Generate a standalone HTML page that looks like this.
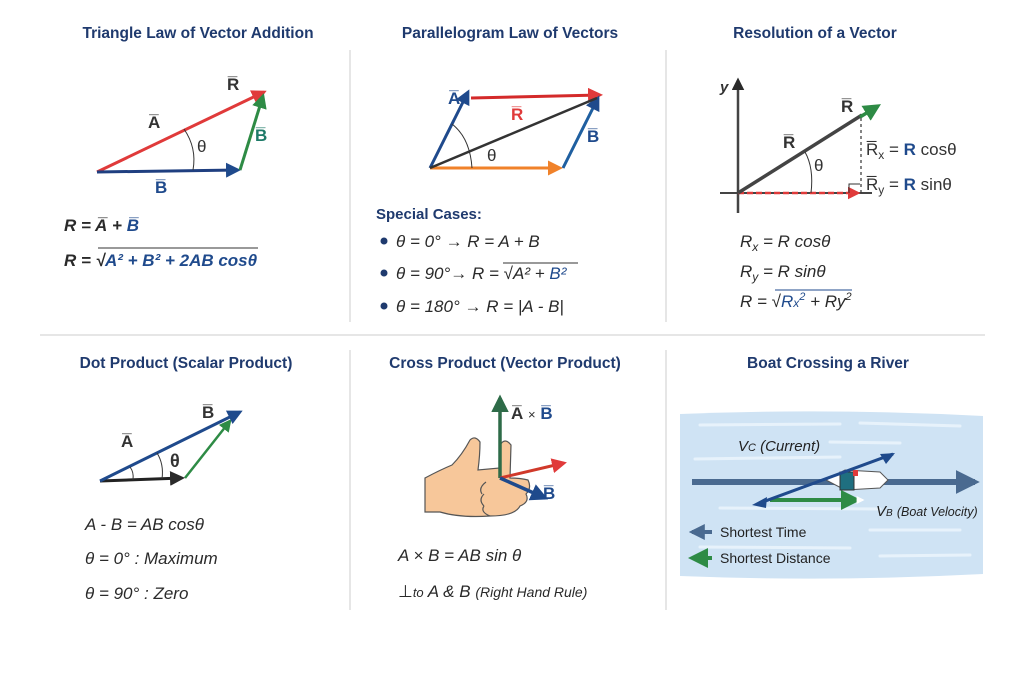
<!DOCTYPE html>
<html><head><meta charset="utf-8"><style>
html,body{margin:0;padding:0;background:#fff;}
svg{display:block;}
text{font-family:"Liberation Sans","DejaVu Sans",sans-serif;}
.t{font-weight:bold;font-size:15.5px;fill:#1f3a6e;text-anchor:middle;}
.eq{font-style:italic;font-size:17px;fill:#2a2a2a;}
.lb{font-weight:bold;font-size:17px;}
</style></head><body>
<svg width="1024" height="683" viewBox="0 0 1024 683" xmlns="http://www.w3.org/2000/svg">
<defs>
<marker id="mr" viewBox="0 0 10 10" refX="8" refY="5" markerWidth="5" markerHeight="5" orient="auto"><path d="M0,0 L10,5 L0,10 z" fill="#e03a3a"/></marker>
<marker id="mb" viewBox="0 0 10 10" refX="8" refY="5" markerWidth="5" markerHeight="5" orient="auto"><path d="M0,0 L10,5 L0,10 z" fill="#1f4a8c"/></marker>
<marker id="mg" viewBox="0 0 10 10" refX="8" refY="5" markerWidth="5" markerHeight="5" orient="auto"><path d="M0,0 L10,5 L0,10 z" fill="#2e8b45"/></marker>
<marker id="mo" viewBox="0 0 10 10" refX="8" refY="5" markerWidth="5" markerHeight="5" orient="auto"><path d="M0,0 L10,5 L0,10 z" fill="#f0822a"/></marker>
<marker id="mk" viewBox="0 0 10 10" refX="8" refY="5" markerWidth="5" markerHeight="5" orient="auto"><path d="M0,0 L10,5 L0,10 z" fill="#2a2a2a"/></marker>
<marker id="ms" viewBox="0 0 10 10" refX="8" refY="5" markerWidth="4" markerHeight="4" orient="auto"><path d="M0,0 L10,5 L0,10 z" fill="#4a6a90"/></marker>
<marker id="mdg" viewBox="0 0 10 10" refX="8" refY="5" markerWidth="5" markerHeight="5" orient="auto"><path d="M0,0 L10,5 L0,10 z" fill="#2e6b48"/></marker>
<marker id="mw" viewBox="0 0 10 10" refX="8" refY="5" markerWidth="4" markerHeight="4" orient="auto"><path d="M0,0 L10,5 L0,10 z" fill="#fff"/></marker>
</defs>

<!-- dividers -->
<g stroke="#d6d6d6" stroke-width="1.2">
<line x1="350" y1="50" x2="350" y2="322"/><line x1="666" y1="50" x2="666" y2="322"/>
<line x1="40" y1="335" x2="985" y2="335"/>
<line x1="350" y1="350" x2="350" y2="610"/><line x1="666" y1="350" x2="666" y2="610"/>
</g>

<!-- titles -->
<text class="t" x="198" y="38">Triangle Law of Vector Addition</text>
<text class="t" x="510" y="38">Parallelogram Law of Vectors</text>
<text class="t" x="815" y="38">Resolution of a Vector</text>
<text class="t" x="186" y="368">Dot Product (Scalar Product)</text>
<text class="t" x="505" y="368">Cross Product (Vector Product)</text>
<text class="t" x="828" y="368">Boat Crossing a River</text>

<!-- Panel 1 -->
<line x1="97" y1="172" x2="264" y2="92" stroke="#e03a3a" stroke-width="3" marker-end="url(#mr)"/>
<line x1="97" y1="172" x2="238" y2="170" stroke="#1f3f80" stroke-width="3" marker-end="url(#mb)"/>
<line x1="240" y1="170" x2="263" y2="96" stroke="#2e8b45" stroke-width="3" marker-end="url(#mg)"/>
<path d="M184,129 Q197,148 193,170" fill="none" stroke="#333" stroke-width="1"/>
<text x="148" y="128" class="lb" fill="#333">A̅</text>
<text x="197" y="152" font-size="17" fill="#333">θ</text>
<text x="255" y="141" class="lb" fill="#1e7a68">B̅</text>
<text x="227" y="90" class="lb" fill="#333">R̅</text>
<text x="155" y="193" class="lb" fill="#1f4a8c">B̅</text>
<text x="64" y="231" class="eq" font-weight="bold">R = <tspan>A̅</tspan> + <tspan fill="#1f4a8c">B̅</tspan></text>
<text x="64" y="266" class="eq" font-weight="bold">R = √<tspan fill="#1f4a8c">A² + B² + 2AB cosθ</tspan></text>
<line x1="98" y1="248" x2="258" y2="248" stroke="#333" stroke-width="1"/>

<!-- Panel 2 -->
<line x1="430" y1="168" x2="560" y2="168" stroke="#f0822a" stroke-width="3" marker-end="url(#mo)"/>
<line x1="430" y1="168" x2="468" y2="92" stroke="#1f4a8c" stroke-width="3" marker-end="url(#mb)"/>
<line x1="471" y1="98" x2="600" y2="95" stroke="#d42a2a" stroke-width="3" marker-end="url(#mr)"/>
<line x1="563" y1="168" x2="598" y2="98" stroke="#1f5fa0" stroke-width="3" marker-end="url(#mb)"/>
<line x1="430" y1="168" x2="597" y2="98" stroke="#333" stroke-width="2.5"/>
<path d="M452,124 Q470,138 472,168" fill="none" stroke="#333" stroke-width="1"/>
<text x="448" y="104" class="lb" fill="#1f4a8c">A̅</text>
<text x="511" y="120" class="lb" fill="#e03a3a">R̅</text>
<text x="587" y="142" class="lb" fill="#1f4a8c">B̅</text>
<text x="487" y="161" font-size="17" fill="#333">θ</text>
<text x="376" y="219" font-weight="bold" font-size="15" fill="#1f3a6e">Special Cases:</text>
<g fill="#1f3a6e"><circle cx="384" cy="241" r="3.5"/><circle cx="384" cy="273" r="3.5"/><circle cx="384" cy="306" r="3.5"/></g>
<text x="396" y="247" class="eq">θ = 0° → R = A + B</text>
<text x="396" y="279" class="eq">θ = 90°→ R = √<tspan>A² + </tspan><tspan fill="#1f4a8c">B²</tspan></text>
<line x1="503" y1="263" x2="578" y2="263" stroke="#333" stroke-width="1"/>
<text x="396" y="312" class="eq">θ = 180° → R = |A - B|</text>

<!-- Panel 3 -->
<line x1="738" y1="213" x2="738" y2="80" stroke="#444" stroke-width="2.5" marker-end="url(#mk)"/>
<line x1="720" y1="193" x2="872" y2="193" stroke="#444" stroke-width="2"/>
<line x1="738" y1="193" x2="858" y2="193" stroke="#e03a3a" stroke-width="2.5" stroke-dasharray="6,3" marker-end="url(#mr)"/>
<line x1="738" y1="193" x2="862" y2="115" stroke="#444" stroke-width="3.5"/>
<line x1="860" y1="117" x2="878" y2="106" stroke="#2e8b45" stroke-width="3.5" marker-end="url(#mg)"/>
<line x1="861" y1="118" x2="861" y2="193" stroke="#333" stroke-width="1.2" stroke-dasharray="3,3"/>
<path d="M849,193 v-9 h11" fill="none" stroke="#333" stroke-width="1"/>
<path d="M805,152 Q814,168 811,193" fill="none" stroke="#333" stroke-width="1"/>
<text x="720" y="92" font-style="italic" font-weight="bold" font-size="15" fill="#333">y</text>
<text x="841" y="112" class="lb" fill="#333">R̅</text>
<text x="783" y="148" class="lb" fill="#333">R̅</text>
<text x="814" y="171" font-size="17" fill="#333">θ</text>
<text x="866" y="155" font-size="17" fill="#333">R̅<tspan font-size="12" dy="4">x</tspan><tspan dy="-4"> = </tspan><tspan font-weight="bold" fill="#1f4a8c">R</tspan> cosθ</text>
<text x="866" y="190" font-size="17" fill="#333">R̅<tspan font-size="12" dy="4">y</tspan><tspan dy="-4"> = </tspan><tspan font-weight="bold" fill="#1f4a8c">R</tspan> sinθ</text>
<text x="740" y="247" class="eq">R<tspan font-size="12" dy="4">x</tspan><tspan dy="-4"> = R cosθ</tspan></text>
<text x="740" y="277" class="eq">R<tspan font-size="12" dy="4">y</tspan><tspan dy="-4"> = R sinθ</tspan></text>
<text x="740" y="307" class="eq">R = √<tspan fill="#1f4a8c">R<tspan font-size="12">x</tspan><tspan font-size="11" dy="-7">2</tspan></tspan><tspan dy="7"> + Ry</tspan><tspan font-size="11" dy="-7">2</tspan></text>
<line x1="775" y1="290" x2="852" y2="290" stroke="#1f4a8c" stroke-width="1"/>

<!-- Panel 4 -->
<line x1="100" y1="481" x2="182" y2="478" stroke="#222" stroke-width="3" marker-end="url(#mk)"/>
<line x1="185" y1="478" x2="230" y2="421" stroke="#2e8b45" stroke-width="2.5" marker-end="url(#mg)"/>
<line x1="100" y1="481" x2="240" y2="412" stroke="#1f4a8c" stroke-width="3" marker-end="url(#mb)"/>
<path d="M130,467 Q134,472 133,480" fill="none" stroke="#333" stroke-width="1"/>
<path d="M157,453 Q164,464 162,479" fill="none" stroke="#333" stroke-width="1"/>
<text x="121" y="447" class="lb" fill="#333">A̅</text>
<text x="202" y="418" class="lb" fill="#333">B̅</text>
<text x="170" y="467" font-size="18" font-weight="bold" fill="#333">θ</text>
<text x="85" y="530" class="eq">A - B = AB cosθ</text>
<text x="85" y="564" class="eq">θ = 0° : Maximum</text>
<text x="85" y="599" class="eq">θ = 90° : Zero</text>

<!-- Panel 5 hand -->
<g stroke="#555" stroke-width="1.2" fill="#f7c79a">
<path d="M425,478 Q440,470 452,465 Q462,455 470,440 Q475,435 480,442 Q480,455 478,470 L500,468 L500,445 Q505,437 511,445 L510,478 Q520,478 528,480 Q532,488 526,494 Q530,502 520,506 Q515,516 490,516 Q460,518 440,512 L425,512 Z"/>
<path d="M486,482 Q478,488 482,494 M484,494 Q478,500 484,506 M484,506 Q480,512 490,516" fill="none"/>
</g>
<line x1="500" y1="478" x2="500" y2="398" stroke="#2e6b48" stroke-width="3.5" marker-end="url(#mdg)"/>
<line x1="500" y1="478" x2="564" y2="463" stroke="#d0392a" stroke-width="3" marker-end="url(#mr)"/>
<line x1="500" y1="478" x2="545" y2="498" stroke="#1f4a8c" stroke-width="3.5" marker-end="url(#mb)"/>
<text x="511" y="419" class="lb" fill="#333">A̅ <tspan font-weight="normal" font-size="13">×</tspan> <tspan fill="#1f4a8c">B̅</tspan></text>
<text x="543" y="499" class="lb" fill="#1f4a8c">B̅</text>
<text x="398" y="561" class="eq">A × B = AB sin θ</text>
<text x="398" y="597" font-size="17" fill="#2a2a2a">⊥<tspan font-size="13" font-style="italic">to</tspan><tspan font-style="italic"> A &amp; B </tspan><tspan font-size="14" font-style="italic">(Right Hand Rule)</tspan></text>

<!-- Panel 6 river -->
<path d="M680,414 Q830,408 983,416 L983,574 Q830,582 680,576 Z" fill="#cfe3f4"/>
<g stroke="#eaf4fc" stroke-width="3" stroke-linecap="round" opacity="0.9">
<line x1="700" y1="425" x2="840" y2="424"/><line x1="860" y1="423" x2="960" y2="426"/>
<line x1="695" y1="459" x2="840" y2="457"/><line x1="720" y1="508" x2="880" y2="509"/>
<line x1="870" y1="530" x2="960" y2="530"/><line x1="700" y1="547" x2="850" y2="548"/>
<line x1="880" y1="556" x2="970" y2="555"/><line x1="830" y1="442" x2="900" y2="443"/>
</g>
<line x1="692" y1="482" x2="975" y2="482" stroke="#4a6a90" stroke-width="6" marker-end="url(#ms)"/>
<path d="M826,480 L845,470 L880,472 L888,480 L880,488 L845,490 Z" fill="#fff" stroke="#555" stroke-width="1"/>
<rect x="840" y="472" width="14" height="18" fill="#1f6f80" stroke="#333"/>
<rect x="853" y="470" width="5" height="6" fill="#e03a3a"/>
<line x1="770" y1="500" x2="857" y2="500" stroke="#2e8b45" stroke-width="4" marker-end="url(#mg)"/>
<line x1="857" y1="500" x2="863" y2="500" stroke="#fff" stroke-width="2" marker-end="url(#mw)"/>
<line x1="760" y1="503" x2="893" y2="454" stroke="#1f4a8c" stroke-width="3"/>
<path d="M895,453 L880,454 L886,464 Z" fill="#1f4a8c"/>
<path d="M752,505 L767,497 L766,508 Z" fill="#1f4a8c"/>
<text x="738" y="451" font-style="italic" font-size="15" fill="#222">V<tspan font-size="11">C</tspan> (Current)</text>
<text x="876" y="516" font-style="italic" font-size="15" fill="#222">V<tspan font-size="10">B</tspan> <tspan font-size="12.5">(Boat Velocity)</tspan></text>
<line x1="712" y1="532" x2="692" y2="532" stroke="#4a6a90" stroke-width="4" marker-end="url(#ms)"/>
<text x="720" y="537" font-size="14" fill="#222">Shortest Time</text>
<line x1="712" y1="558" x2="692" y2="558" stroke="#2e8b45" stroke-width="4" marker-end="url(#mg)"/>
<text x="720" y="563" font-size="14" fill="#222">Shortest Distance</text>
</svg>
</body></html>
